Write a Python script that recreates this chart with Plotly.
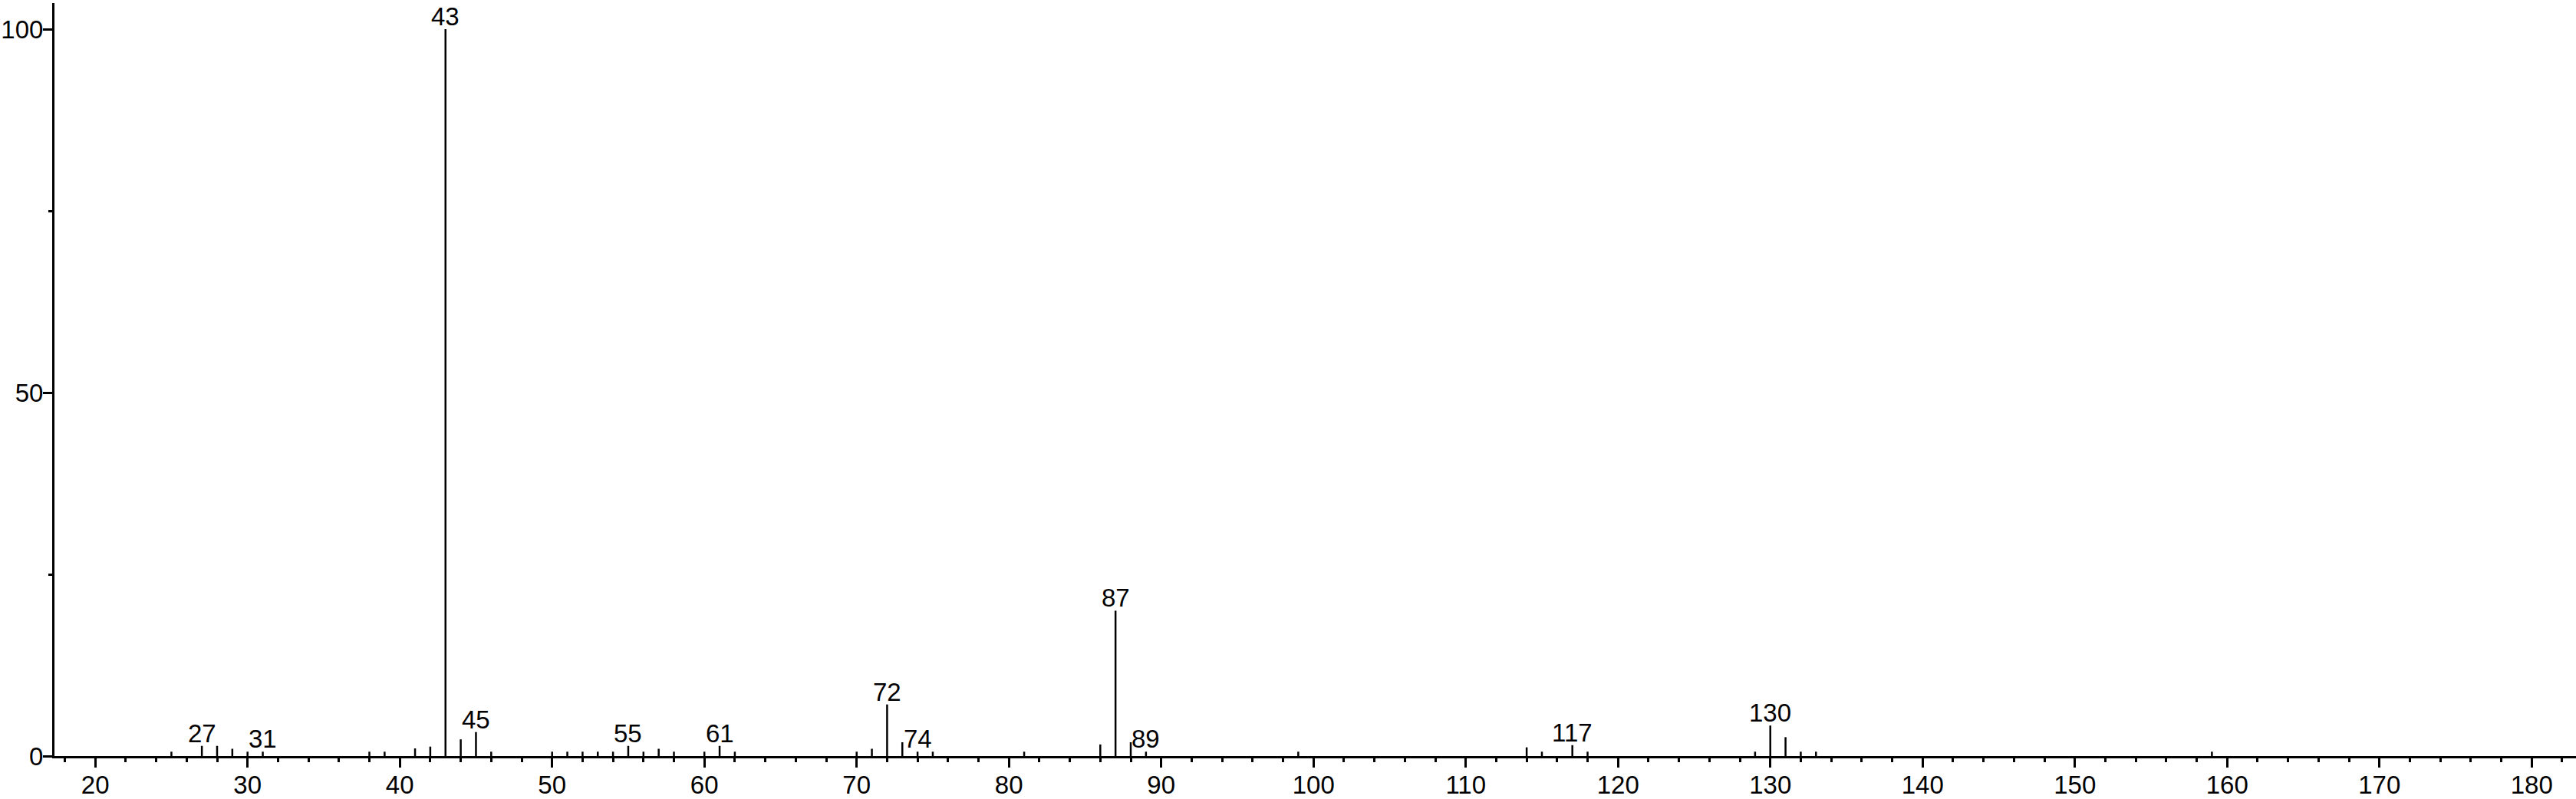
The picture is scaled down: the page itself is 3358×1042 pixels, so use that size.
import plotly.graph_objects as go

# m/z values and relative intensities (%)
mz = [25, 27, 28, 29, 30, 31, 38, 39, 41, 42, 43, 44, 45, 46, 50, 51, 52, 53, 54,
      55, 56, 57, 58, 60, 61, 62, 70, 71, 72, 73, 74, 75, 81, 86, 87, 88, 89, 99,
      114, 115, 117, 118, 129, 130, 131, 132, 133, 159]
intensity = [0.6, 1.4, 1.4, 1.0, 0.6, 0.6, 0.6, 0.6, 1.05, 1.3, 100, 2.3, 3.3, 0.6,
             0.6, 0.6, 0.6, 0.6, 0.6, 1.4, 0.6, 1.0, 0.6, 0.6, 1.4, 0.6, 0.6, 1.0,
             7.1, 1.9, 0.6, 0.6, 0.6, 1.6, 20.0, 1.9, 0.6, 0.6, 1.2, 0.6, 1.5, 0.6,
             0.6, 4.2, 2.6, 0.6, 0.6, 0.6]
labelled = [27, 31, 43, 45, 55, 61, 72, 74, 87, 89, 117, 130]

x_ticks = list(range(20, 181, 10))
y_ticks = [0, 50, 100]

FONT = "Liberation Sans, Arial, sans-serif"
FS = 33

xs, ys = [], []
for m, v in zip(mz, intensity):
    xs += [m, m, None]
    ys += [0, v, None]

fig = go.Figure()
fig.add_trace(go.Scatter(x=xs, y=ys, mode="lines",
                         line=dict(color="black", width=2.5),
                         hoverinfo="skip", showlegend=False))

lookup = dict(zip(mz, intensity))
for m in labelled:
    fig.add_annotation(x=m, y=lookup[m], text=str(m), showarrow=False,
                       xanchor="center", yanchor="bottom", yshift=-4,
                       font=dict(family=FONT, size=FS, color="black"))

fig.update_layout(
    width=3358, height=1042, autosize=False,
    margin=dict(l=71, r=0, t=4, b=56),
    paper_bgcolor="white", plot_bgcolor="white",
    showlegend=False,
    font=dict(family=FONT, size=FS, color="black"),
)
fig.update_xaxes(
    range=[17.32, 182.91], showgrid=False, zeroline=False, automargin=False,
    showline=True, linecolor="black", linewidth=3,
    tickmode="array", tickvals=x_ticks, ticktext=[str(t) for t in x_ticks],
    ticks="outside", ticklen=12, tickwidth=3, tickcolor="black",
    ticklabelstandoff=-6,
    tickfont=dict(family=FONT, size=FS, color="black"),
    minor=dict(dtick=2, tick0=0, ticks="outside", ticklen=5, tickwidth=3,
               tickcolor="black", showgrid=False),
)
fig.update_yaxes(
    range=[0, 103.6], showgrid=False, zeroline=False, automargin=False,
    showline=True, linecolor="black", linewidth=3,
    tickmode="array", tickvals=y_ticks, ticktext=[str(t) for t in y_ticks],
    ticks="outside", ticklen=12, tickwidth=3, tickcolor="black",
    ticklabelstandoff=-7,
    tickfont=dict(family=FONT, size=FS, color="black"),
    minor=dict(tickvals=[25, 75], ticks="outside", ticklen=5, tickwidth=3,
               tickcolor="black", showgrid=False),
)

fig.write_html("out.html",
               config={"displayModeBar": False},
               post_script="document.body.style.margin='0';"
                           "document.body.style.overflow='hidden';")
